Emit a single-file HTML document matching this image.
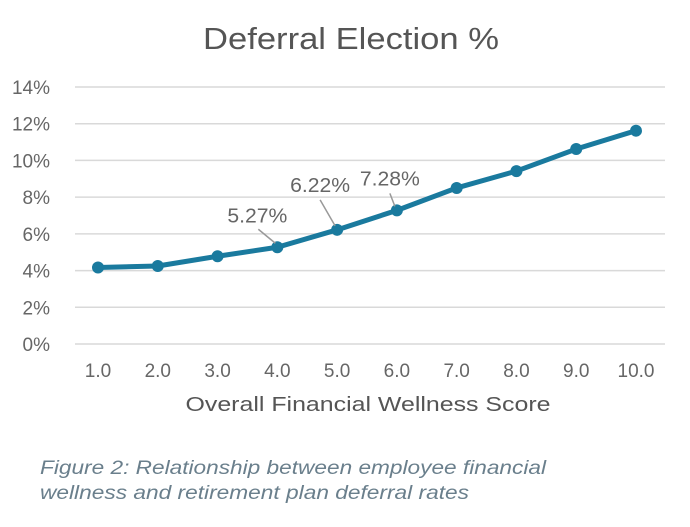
<!DOCTYPE html>
<html><head><meta charset="utf-8"><style>
body{margin:0;background:#fff;width:690px;height:522px;overflow:hidden}
svg{font-family:"Liberation Sans",sans-serif}
</style></head><body>
<svg width="690" height="522" id="c">
<text x="351" y="49" text-anchor="middle" font-size="31" fill="#555" textLength="296" lengthAdjust="spacingAndGlyphs">Deferral Election %</text>
<text x="368" y="411" text-anchor="middle" font-size="20" fill="#555" textLength="365" lengthAdjust="spacingAndGlyphs">Overall Financial Wellness Score</text>
<text x="40" y="474" font-size="19" font-style="italic" fill="#6a7f8c" textLength="506" lengthAdjust="spacingAndGlyphs">Figure 2: Relationship between employee financial</text>
<text x="40" y="499" font-size="19" font-style="italic" fill="#6a7f8c" textLength="429" lengthAdjust="spacingAndGlyphs">wellness and retirement plan deferral rates</text>
<g id="grid"></g><g id="series"></g><g id="ann"></g>
</svg>
<script>
const categories=["1.0","2.0","3.0","4.0","5.0","6.0","7.0","8.0","9.0","10.0"];
const values=[4.17,4.25,4.78,5.27,6.22,7.28,8.5,9.42,10.62,11.62];
const yTicks=[0,2,4,6,8,10,12,14];
const annotated=[3,4,5];
const labels=["5.27%","6.22%","7.28%"];
const NS="http://www.w3.org/2000/svg";
function X(i){return 98+i*(636-98)/9}
function Y(v){return 344-v*(344-87)/14}
function mk(t,a,p){const e=document.createElementNS(NS,t);for(const k in a)e.setAttribute(k,a[k]);p.appendChild(e);return e}
const g=document.getElementById('grid'),s=document.getElementById('series'),an=document.getElementById('ann');
yTicks.forEach(v=>{
 const l=mk('line',{x1:75,x2:665,y1:Y(v),y2:Y(v),stroke:'#d9d9d9','stroke-width':1.5},g);
 
 
 const t=mk('text',{x:50,y:Y(v)+7,'text-anchor':'end','font-size':19,fill:'#666'},g);t.textContent=v+'%';
 
 
});
categories.forEach((c,i)=>{
 const t=mk('text',{x:X(i),y:377,'text-anchor':'middle','font-size':19,fill:'#666'},g);t.textContent=c;
 
 
});
const p=mk('polyline',{points:values.map((v,i)=>X(i)+','+Y(v)).join(' '),fill:'none',stroke:'#1a7a9e','stroke-width':5,'stroke-linejoin':'round'},s);


values.forEach((v,i)=>{
 const c=mk('circle',{cx:X(i),cy:Y(v),r:6,fill:'#1a7a9e'},s);
 
 
});
const offs=[[-19,-18,-20,-25],[-17,-30,-17,-38],[-7,-17,-7,-25]];
annotated.forEach((idx,k)=>{
 const x=X(idx),y=Y(values[idx]),o=offs[k];
 const l=mk('line',{x1:x-2,y1:y-4,x2:x+o[0],y2:y+o[1],stroke:'#999','stroke-width':1.5},an);
 
 
 const t=mk('text',{x:x+o[2],y:y+o[3],'text-anchor':'middle','font-size':20,fill:'#666',textLength:60,lengthAdjust:'spacingAndGlyphs'},an);t.textContent=labels[k];
 
 
});
</script>
</body></html>
